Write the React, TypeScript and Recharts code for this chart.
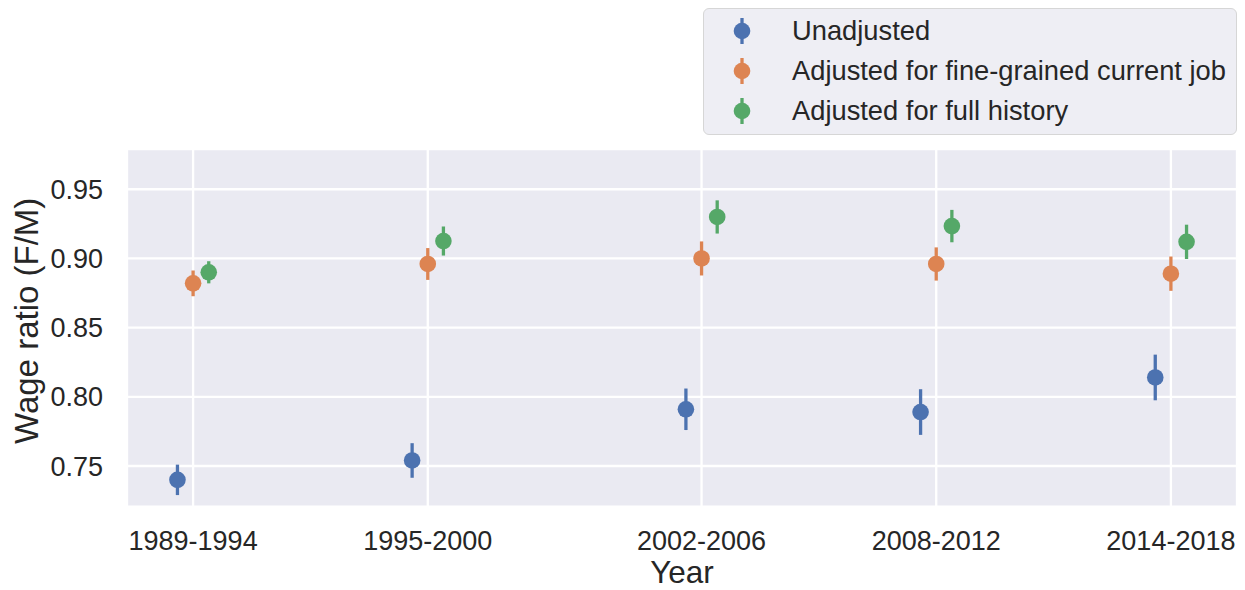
import React from 'react';
import { ScatterChart, Scatter, XAxis, YAxis, CartesianGrid, ErrorBar } from 'recharts';

// Period labels and the numeric year each period sits at on the x axis
const periods = ['1989-1994', '1995-2000', '2002-2006', '2008-2012', '2014-2018'];
const periodYears = [1992, 1998, 2005, 2011, 2017];

// Female / male wage ratio per period, with half-widths of the confidence intervals
const unadjusted = [0.74, 0.754, 0.791, 0.789, 0.814];
const unadjustedErr = [0.011, 0.0125, 0.015, 0.0165, 0.0165];

const fineGrained = [0.882, 0.896, 0.9, 0.896, 0.889];
const fineGrainedErr = [0.0093, 0.0115, 0.0123, 0.012, 0.0124];

const fullHistory = [0.89, 0.9126, 0.93, 0.9234, 0.912];
const fullHistoryErr = [0.008, 0.0105, 0.012, 0.0117, 0.0124];

const yTicks = [0.75, 0.8, 0.85, 0.9, 0.95];

const FONT = '"Liberation Sans", Arial, Helvetica, sans-serif';
const TEXT = '#262626';
const BLUE = '#4C72B0';
const ORANGE = '#DD8452';
const GREEN = '#55A868';

const build = (vals: number[], errs: number[], shift: number) =>
  periodYears.map((yr, i) => ({ x: yr + shift, y: vals[i], err: errs[i] }));

const seriesList = [
  { name: 'Unadjusted', color: BLUE, data: build(unadjusted, unadjustedErr, -0.4) },
  { name: 'Adjusted for fine-grained current job', color: ORANGE, data: build(fineGrained, fineGrainedErr, 0) },
  { name: 'Adjusted for full history', color: GREEN, data: build(fullHistory, fullHistoryErr, 0.4) },
];

const dot = (color: string) => (props: any) => (
  <circle cx={props.cx} cy={props.cy} r={8.3} fill={color} />
);

const LegendBox = () => (
  <div
    style={{
      position: 'absolute',
      left: 703,
      top: 8,
      width: 532,
      height: 125,
      background: '#eeeef4',
      border: '1.5px solid #d6d6d6',
      borderRadius: 6,
      boxSizing: 'content-box',
      fontFamily: FONT,
    }}
  >
    {seriesList.map((s, i) => (
      <div
        key={s.name}
        style={{
          position: 'absolute',
          left: 0,
          top: 22 + i * 40 - 20,
          height: 40,
          display: 'flex',
          alignItems: 'center',
        }}
      >
        <svg width={80} height={40} style={{ display: 'block' }}>
          <line x1={38} x2={38} y1={7} y2={33} stroke={s.color} strokeWidth={3.3} />
          <circle cx={38} cy={20} r={8.3} fill={s.color} />
        </svg>
        <span style={{ marginLeft: 8, fontSize: 27.3, color: TEXT, whiteSpace: 'nowrap' }}>{s.name}</span>
      </div>
    ))}
  </div>
);

const YTitle = (props: any) => {
  const vb = props.viewBox;
  const cx = 38;
  const cy = vb.y + vb.height / 2 - 7;
  return (
    <text
      x={cx}
      y={cy}
      transform={`rotate(-90, ${cx}, ${cy})`}
      textAnchor="middle"
      fontSize={33}
      fontFamily={FONT}
      fill={TEXT}
    >
      Wage ratio (F/M)
    </text>
  );
};

export default function App() {
  return (
    <div style={{ position: 'absolute', left: 0, top: 0, width: 1245, height: 590 }}>
      <ScatterChart
        width={1245}
        height={590}
        margin={{ top: 149, right: 8, bottom: 0, left: 0 }}
      >
        <CartesianGrid fill="#EAEAF2" stroke="#ffffff" strokeWidth={2.3} />
        <XAxis
          type="number"
          dataKey="x"
          domain={[1990.31, 2018.69]}
          ticks={periodYears}
          tickFormatter={(v: number) => periods[periodYears.indexOf(v)] ?? ''}
          allowDataOverflow
          axisLine={false}
          tickLine={false}
          tickSize={0}
          tickMargin={24}
          height={83.3}
          tick={{ fontSize: 27, fontFamily: FONT, fill: TEXT }}
          label={{
            value: 'Year',
            position: 'insideBottom',
            offset: 7,
            fontSize: 31.5,
            fontFamily: FONT,
            fill: TEXT,
          }}
        />
        <YAxis
          type="number"
          dataKey="y"
          domain={[0.7206, 0.9791]}
          ticks={yTicks}
          tickFormatter={(v: number) => v.toFixed(2)}
          allowDataOverflow
          axisLine={false}
          tickLine={false}
          tickSize={0}
          tickMargin={24}
          width={127}
          tick={{ fontSize: 27, fontFamily: FONT, fill: TEXT }}
          label={{ content: YTitle }}
        />
        {seriesList.map((s) => (
          <Scatter
            key={s.name}
            name={s.name}
            data={s.data}
            fill={s.color}
            shape={dot(s.color)}
            isAnimationActive={false}
          >
            <ErrorBar
              dataKey="err"
              direction="y"
              width={0}
              stroke={s.color}
              strokeWidth={3.3}
              isAnimationActive={false}
            />
          </Scatter>
        ))}
      </ScatterChart>
      <LegendBox />
    </div>
  );
}
